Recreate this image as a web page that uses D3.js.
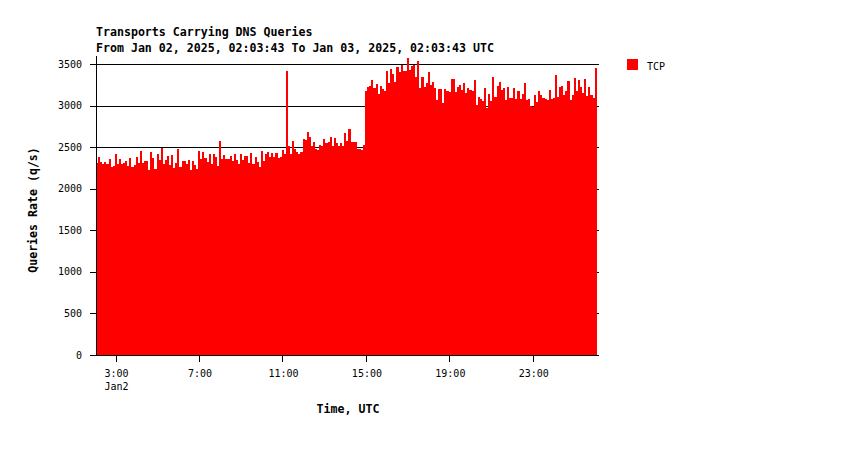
<!DOCTYPE html>
<html>
<head>
<meta charset="utf-8">
<script src="https://cdn.jsdelivr.net/npm/d3@7"></script>
<style>
  html, body { margin: 0; padding: 0; background: #ffffff; }
  svg { display: block; }
  text { font-family: "DejaVu Sans Mono", monospace; fill: #000; }
</style>
</head>
<body>
<svg id="chart" width="850" height="450"></svg>
<script>
// ---- data ----
const titleLines = ["Transports Carrying DNS Queries",
                    "From Jan 02, 2025, 02:03:43 To Jan 03, 2025, 02:03:43 UTC"];
const seriesName = "TCP";
const startTime = "2025-01-02T02:03:43Z";
const endTime = "2025-01-03T02:03:43Z";
const binMinutes = 6;
const tcpValues = [
  2316, 2384, 2328, 2296, 2324, 2296, 2360, 2268, 2276, 2420,
  2300, 2360, 2300, 2316, 2336, 2280, 2372, 2268, 2292, 2384,
  2312, 2456, 2312, 2332, 2336, 2232, 2444, 2376, 2240, 2420,
  2348, 2492, 2304, 2344, 2400, 2288, 2408, 2252, 2312, 2476,
  2264, 2336, 2336, 2296, 2348, 2228, 2336, 2288, 2244, 2456,
  2360, 2444, 2376, 2328, 2420, 2296, 2420, 2388, 2276, 2576,
  2360, 2408, 2360, 2360, 2396, 2336, 2420, 2348, 2300, 2420,
  2348, 2396, 2396, 2316, 2432, 2300, 2384, 2328, 2264, 2456,
  2336, 2420, 2444, 2384, 2432, 2384, 2432, 2372, 2384, 2468,
  2420, 3416, 2516, 2420, 2576, 2480, 2448, 2424, 2440, 2600,
  2588, 2684, 2628, 2520, 2564, 2484, 2472, 2528, 2516, 2600,
  2552, 2564, 2624, 2520, 2612, 2552, 2520, 2552, 2520, 2672,
  2576, 2720, 2560, 2565, 2560, 2480, 2475, 2470, 2525, 3176,
  3224, 3236, 3308, 3212, 3260, 3140, 3236, 3200, 3176, 3416,
  3272, 3440, 3380, 3284, 3464, 3404, 3488, 3416, 3416, 3572,
  3428, 3476, 3488, 3344, 3536, 3212, 3344, 3224, 3272, 3404,
  3248, 3284, 3212, 3068, 3200, 3200, 3032, 3200, 3176, 3168,
  3320, 3320, 3164, 3224, 3248, 3188, 3272, 3156, 3212, 3188,
  3176, 3308, 3008, 3104, 3080, 3056, 3212, 2972, 3140, 3056,
  3344, 3104, 3236, 3284, 3188, 3212, 3068, 3224, 3092, 3092,
  3212, 3080, 3176, 3080, 3140, 3272, 3068, 3080, 2996, 2984,
  3128, 3044, 3176, 3128, 3092, 3080, 3068, 3188, 3080, 3092,
  3368, 3104, 3224, 3236, 3128, 3176, 3296, 3068, 3128, 3332,
  3176, 3308, 3224, 3160, 3320, 3116, 3224, 3128, 3092, 3452
];
const yTicks = [0, 500, 1000, 1500, 2000, 2500, 3000, 3500];
const xTickTimes = ["2025-01-02T03:00:00Z", "2025-01-02T07:00:00Z", "2025-01-02T11:00:00Z",
                    "2025-01-02T15:00:00Z", "2025-01-02T19:00:00Z", "2025-01-02T23:00:00Z"];
const xTickLabels = ["3:00", "7:00", "11:00", "15:00", "19:00", "23:00"];
const xDateLabel = "Jan2";
const xAxisTitle = "Time, UTC";
const yAxisTitle = "Queries Rate (q/s)";

// ---- layout ----
const svg = d3.select("#chart");
const plot = { left: 96, right: 596.7, top: 64.3, bottom: 355 };

const t0 = new Date(startTime), t1 = new Date(endTime);
const x = d3.scaleUtc().domain([t0, t1]).range([plot.left, plot.right]);
const y = d3.scaleLinear().domain([0, 3500]).range([plot.bottom, plot.top]);

const data = tcpValues.map((v, i) => ({
  start: new Date(t0.getTime() + i * binMinutes * 60000),
  end: new Date(t0.getTime() + (i + 1) * binMinutes * 60000),
  v
}));

// gridlines (behind bars)
svg.append("g").selectAll("line").data(yTicks).join("line")
  .attr("x1", 90).attr("x2", 599)
  .attr("y1", d => Math.round(y(d)) + 0.5).attr("y2", d => Math.round(y(d)) + 0.5)
  .attr("stroke", "#000").attr("stroke-width", 1)
  .attr("shape-rendering", "crispEdges");

// bars
svg.append("g").selectAll("rect").data(data).join("rect")
  .attr("x", d => x(d.start))
  .attr("width", d => x(d.end) - x(d.start))
  .attr("y", d => y(d.v))
  .attr("height", d => y(0) - y(d.v))
  .attr("fill", "#ff0000")
  .attr("shape-rendering", "crispEdges");

// y axis line
svg.append("line")
  .attr("x1", plot.left + 0.5).attr("x2", plot.left + 0.5)
  .attr("y1", 56).attr("y2", plot.bottom + 1)
  .attr("stroke", "#000").attr("shape-rendering", "crispEdges");

// y tick labels
svg.append("g").selectAll("text").data(yTicks).join("text")
  .attr("x", 82).attr("y", d => y(d) + 3.5)
  .attr("text-anchor", "end").attr("font-size", "10px")
  .text(d => d);

// x ticks
const xt = xTickTimes.map(s => new Date(s));
svg.append("g").selectAll("line").data(xt).join("line")
  .attr("x1", d => Math.round(x(d)) + 0.5).attr("x2", d => Math.round(x(d)) + 0.5)
  .attr("y1", plot.bottom).attr("y2", plot.bottom + 7)
  .attr("stroke", "#000").attr("shape-rendering", "crispEdges");
svg.append("g").selectAll("text").data(xt).join("text")
  .attr("x", d => x(d) + 1).attr("y", 377)
  .attr("text-anchor", "middle").attr("font-size", "10px")
  .text((d, i) => xTickLabels[i]);
svg.append("text")
  .attr("x", x(xt[0]) + 1).attr("y", 390)
  .attr("text-anchor", "middle").attr("font-size", "10px")
  .text(xDateLabel);

// titles
svg.append("g").selectAll("text").data(titleLines).join("text")
  .attr("x", 96).attr("y", (d, i) => 36 + i * 16)
  .attr("font-size", "11.6px").attr("font-weight", "bold")
  .text(d => d);

svg.append("text")
  .attr("x", 348).attr("y", 413)
  .attr("text-anchor", "middle").attr("font-size", "11.6px").attr("font-weight", "bold")
  .text(xAxisTitle);

svg.append("text")
  .attr("transform", "translate(37,210) rotate(-90)")
  .attr("text-anchor", "middle").attr("font-size", "11.6px").attr("font-weight", "bold")
  .text(yAxisTitle);

// legend
svg.append("rect")
  .attr("x", 627).attr("y", 59).attr("width", 11).attr("height", 11)
  .attr("fill", "#ff0000").attr("shape-rendering", "crispEdges");
svg.append("text")
  .attr("x", 647).attr("y", 69.5).attr("font-size", "10px")
  .text(seriesName);
</script>
</body>
</html>
